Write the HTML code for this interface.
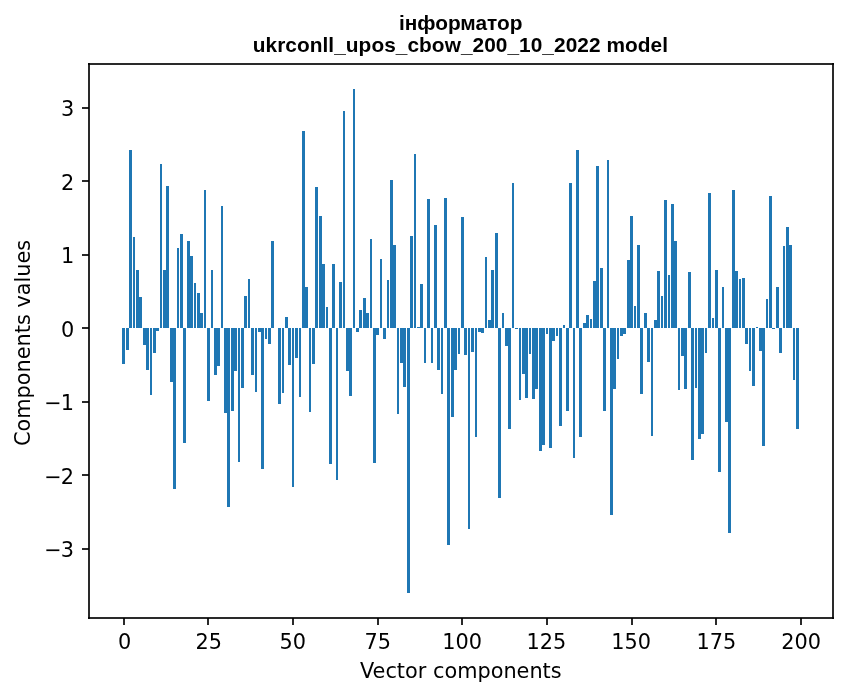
<!DOCTYPE html>
<html lang="uk">
<head>
<meta charset="utf-8">
<title>інформатор — ukrconll_upos_cbow_200_10_2022 model</title>
<style>
html,body{margin:0;padding:0;background:#fff;}
body{width:847px;height:696px;overflow:hidden;}
svg{display:block;}
.t{font-family:"DejaVu Sans","Liberation Sans",sans-serif;font-size:20.833px;fill:#000;}
.ttl{font-family:"Liberation Sans",Arial,sans-serif;font-weight:bold;font-size:20.833px;fill:#000;}
.bar{fill:#1f77b4;}
.ax{fill:#000;fill-opacity:0.8353;}
</style>
</head>
<body>
<svg width="847" height="696" viewBox="0 0 847 696">
<rect x="0" y="0" width="847" height="696" fill="#fff"/>
<g class="bar" shape-rendering="crispEdges">
<rect x="122" y="328" width="3" height="36"/><rect x="126" y="328" width="3" height="22"/><rect x="129" y="150" width="3" height="178"/><rect x="133" y="237" width="2" height="91"/><rect x="136" y="270" width="3" height="58"/>
<rect x="139" y="297" width="3" height="31"/><rect x="143" y="328" width="3" height="17"/><rect x="146" y="328" width="3" height="42"/><rect x="150" y="328" width="2" height="67"/><rect x="153" y="328" width="3" height="25"/>
<rect x="156" y="328" width="3" height="3"/><rect x="160" y="164" width="2" height="164"/><rect x="163" y="270" width="3" height="58"/><rect x="166" y="186" width="3" height="142"/><rect x="170" y="328" width="3" height="54"/>
<rect x="173" y="328" width="3" height="161"/><rect x="177" y="248" width="2" height="80"/><rect x="180" y="234" width="3" height="94"/><rect x="183" y="328" width="3" height="115"/><rect x="187" y="241" width="3" height="87"/>
<rect x="190" y="256" width="3" height="72"/><rect x="194" y="283" width="2" height="45"/><rect x="197" y="293" width="3" height="35"/><rect x="200" y="313" width="3" height="15"/><rect x="204" y="190" width="2" height="138"/>
<rect x="207" y="328" width="3" height="73"/><rect x="211" y="270" width="2" height="58"/><rect x="214" y="328" width="3" height="47"/><rect x="217" y="328" width="3" height="38"/><rect x="221" y="206" width="2" height="122"/>
<rect x="224" y="328" width="3" height="85"/><rect x="227" y="328" width="3" height="179"/><rect x="231" y="328" width="3" height="83"/><rect x="234" y="328" width="3" height="43"/><rect x="238" y="328" width="2" height="134"/>
<rect x="241" y="328" width="3" height="60"/><rect x="244" y="296" width="3" height="32"/><rect x="248" y="279" width="2" height="49"/><rect x="251" y="328" width="3" height="47"/><rect x="255" y="328" width="2" height="64"/>
<rect x="258" y="328" width="3" height="4"/><rect x="261" y="328" width="3" height="141"/><rect x="265" y="328" width="2" height="11"/><rect x="268" y="328" width="3" height="16"/><rect x="271" y="241" width="3" height="87"/>
<rect x="278" y="328" width="3" height="76"/><rect x="282" y="328" width="2" height="65"/><rect x="285" y="317" width="3" height="11"/><rect x="288" y="328" width="3" height="37"/>
<rect x="292" y="328" width="2" height="159"/><rect x="295" y="328" width="3" height="30"/><rect x="299" y="328" width="2" height="69"/><rect x="302" y="131" width="3" height="197"/><rect x="305" y="287" width="3" height="41"/>
<rect x="309" y="328" width="2" height="84"/><rect x="312" y="328" width="3" height="36"/><rect x="315" y="187" width="3" height="141"/><rect x="319" y="216" width="3" height="112"/><rect x="322" y="264" width="3" height="64"/>
<rect x="326" y="307" width="2" height="21"/><rect x="329" y="328" width="3" height="136"/><rect x="332" y="264" width="3" height="64"/><rect x="336" y="328" width="2" height="152"/><rect x="339" y="282" width="3" height="46"/>
<rect x="343" y="111" width="2" height="217"/><rect x="346" y="328" width="3" height="43"/><rect x="349" y="328" width="3" height="68"/><rect x="353" y="89" width="2" height="239"/><rect x="356" y="328" width="3" height="4"/>
<rect x="359" y="310" width="3" height="18"/><rect x="363" y="298" width="3" height="30"/><rect x="366" y="313" width="3" height="15"/><rect x="370" y="239" width="2" height="89"/><rect x="373" y="328" width="3" height="135"/>
<rect x="376" y="328" width="3" height="7"/><rect x="380" y="259" width="2" height="69"/><rect x="383" y="328" width="3" height="11"/><rect x="387" y="280" width="2" height="48"/><rect x="390" y="180" width="3" height="148"/>
<rect x="393" y="245" width="3" height="83"/><rect x="397" y="328" width="2" height="86"/><rect x="400" y="328" width="3" height="35"/><rect x="403" y="328" width="3" height="59"/><rect x="407" y="328" width="3" height="265"/>
<rect x="410" y="236" width="3" height="92"/><rect x="414" y="154" width="2" height="174"/><rect x="417" y="327" width="3" height="1"/><rect x="420" y="284" width="3" height="44"/><rect x="424" y="328" width="2" height="35"/>
<rect x="427" y="199" width="3" height="129"/><rect x="431" y="328" width="2" height="35"/><rect x="434" y="225" width="3" height="103"/><rect x="437" y="328" width="3" height="42"/><rect x="441" y="328" width="2" height="66"/>
<rect x="444" y="198" width="3" height="130"/><rect x="447" y="328" width="3" height="217"/><rect x="451" y="328" width="3" height="89"/><rect x="454" y="328" width="3" height="42"/><rect x="458" y="328" width="2" height="26"/>
<rect x="461" y="217" width="3" height="111"/><rect x="464" y="328" width="3" height="27"/><rect x="468" y="328" width="2" height="201"/><rect x="471" y="328" width="3" height="24"/><rect x="475" y="328" width="2" height="109"/>
<rect x="478" y="328" width="3" height="4"/><rect x="481" y="328" width="3" height="5"/><rect x="485" y="257" width="2" height="71"/><rect x="488" y="320" width="3" height="8"/><rect x="491" y="270" width="3" height="58"/>
<rect x="495" y="233" width="3" height="95"/><rect x="498" y="328" width="3" height="170"/><rect x="502" y="313" width="2" height="15"/><rect x="505" y="328" width="3" height="18"/><rect x="508" y="328" width="3" height="101"/>
<rect x="512" y="183" width="2" height="145"/><rect x="515" y="328" width="3" height="1"/><rect x="519" y="328" width="2" height="72"/><rect x="522" y="328" width="3" height="46"/><rect x="525" y="328" width="3" height="70"/>
<rect x="529" y="328" width="2" height="26"/><rect x="532" y="328" width="3" height="71"/><rect x="535" y="328" width="3" height="61"/><rect x="539" y="328" width="3" height="123"/><rect x="542" y="328" width="3" height="117"/>
<rect x="546" y="328" width="2" height="6"/><rect x="549" y="328" width="3" height="120"/><rect x="552" y="328" width="3" height="13"/><rect x="556" y="328" width="2" height="8"/><rect x="559" y="328" width="3" height="98"/>
<rect x="563" y="325" width="2" height="3"/><rect x="566" y="328" width="3" height="83"/><rect x="569" y="183" width="3" height="145"/><rect x="573" y="328" width="2" height="130"/><rect x="576" y="150" width="3" height="178"/>
<rect x="579" y="328" width="3" height="109"/><rect x="583" y="323" width="3" height="5"/><rect x="586" y="315" width="3" height="13"/><rect x="590" y="319" width="2" height="9"/><rect x="593" y="281" width="3" height="47"/>
<rect x="596" y="166" width="3" height="162"/><rect x="600" y="268" width="3" height="60"/><rect x="603" y="328" width="3" height="83"/><rect x="607" y="160" width="2" height="168"/><rect x="610" y="328" width="3" height="187"/>
<rect x="613" y="328" width="3" height="61"/><rect x="617" y="328" width="2" height="31"/><rect x="620" y="328" width="3" height="8"/><rect x="623" y="328" width="3" height="6"/><rect x="627" y="260" width="3" height="68"/>
<rect x="630" y="216" width="3" height="112"/><rect x="634" y="306" width="2" height="22"/><rect x="637" y="245" width="3" height="83"/><rect x="640" y="328" width="3" height="66"/><rect x="644" y="313" width="3" height="15"/>
<rect x="647" y="328" width="3" height="34"/><rect x="651" y="328" width="2" height="108"/><rect x="654" y="320" width="3" height="8"/><rect x="657" y="271" width="3" height="57"/><rect x="661" y="296" width="2" height="32"/>
<rect x="664" y="200" width="3" height="128"/><rect x="668" y="275" width="2" height="53"/><rect x="671" y="204" width="3" height="124"/><rect x="674" y="241" width="3" height="87"/><rect x="678" y="328" width="2" height="62"/>
<rect x="681" y="328" width="3" height="28"/><rect x="684" y="328" width="3" height="61"/><rect x="688" y="272" width="3" height="56"/><rect x="691" y="328" width="3" height="132"/><rect x="695" y="328" width="2" height="60"/>
<rect x="698" y="328" width="3" height="111"/><rect x="701" y="328" width="3" height="106"/><rect x="705" y="328" width="2" height="25"/><rect x="708" y="193" width="3" height="135"/><rect x="712" y="318" width="2" height="10"/>
<rect x="715" y="270" width="3" height="58"/><rect x="718" y="328" width="3" height="144"/><rect x="722" y="287" width="2" height="41"/><rect x="725" y="328" width="3" height="94"/><rect x="728" y="328" width="3" height="205"/>
<rect x="732" y="190" width="3" height="138"/><rect x="735" y="271" width="3" height="57"/><rect x="739" y="279" width="2" height="49"/><rect x="742" y="278" width="3" height="50"/><rect x="745" y="328" width="3" height="16"/>
<rect x="749" y="328" width="2" height="43"/><rect x="752" y="328" width="3" height="58"/><rect x="756" y="327" width="2" height="1"/><rect x="759" y="328" width="3" height="23"/><rect x="762" y="328" width="3" height="118"/>
<rect x="766" y="299" width="2" height="29"/><rect x="769" y="196" width="3" height="132"/><rect x="772" y="328" width="3" height="1"/><rect x="776" y="287" width="3" height="41"/><rect x="779" y="328" width="3" height="25"/>
<rect x="783" y="246" width="2" height="82"/><rect x="786" y="227" width="3" height="101"/><rect x="789" y="245" width="3" height="83"/><rect x="793" y="328" width="2" height="52"/><rect x="796" y="328" width="3" height="101"/>
</g>
<g class="ax" shape-rendering="crispEdges">
<rect x="123" y="618" width="2" height="7"/><rect x="207" y="618" width="2" height="7"/><rect x="292" y="618" width="2" height="7"/><rect x="377" y="618" width="2" height="7"/><rect x="461" y="618" width="2" height="7"/><rect x="546" y="618" width="2" height="7"/><rect x="631" y="618" width="2" height="7"/><rect x="715" y="618" width="2" height="7"/><rect x="800" y="618" width="2" height="7"/>
<rect x="82" y="107" width="7" height="2"/><rect x="82" y="180" width="7" height="2"/><rect x="82" y="254" width="7" height="2"/><rect x="82" y="327" width="7" height="2"/><rect x="82" y="401" width="7" height="2"/><rect x="82" y="474" width="7" height="2"/><rect x="82" y="548" width="7" height="2"/>
<rect x="88" y="63" width="746" height="2"/><rect x="88" y="617" width="746" height="2"/><rect x="88" y="63" width="2" height="556"/><rect x="832" y="63" width="2" height="556"/>
</g>
<g class="t" text-anchor="middle">
<text x="124.53" y="648.70">0</text><text x="208.74" y="648.70">25</text><text x="292.86" y="648.70">50</text><text x="377.66" y="648.70">75</text><text x="462.15" y="648.70">100</text><text x="546.29" y="648.70">125</text><text x="631.19" y="648.70">150</text><text x="716.28" y="648.70">175</text><text x="801.25" y="648.70">200</text>
</g>
<g class="t" text-anchor="end">
<text x="74.32" y="116.13">3</text><text x="74.35" y="189.51">2</text><text x="74.29" y="263.08">1</text><text x="74.19" y="336.61">0</text><text x="73.97" y="409.99">−<tspan dx="-1.04">1</tspan></text><text x="73.97" y="484.41">−<tspan dx="-1.04">2</tspan></text><text x="73.97" y="556.97">−<tspan dx="-1.04">3</tspan></text>
</g>
<text class="t" text-anchor="middle" x="460.8" y="678.3">Vector components</text>
<text class="t" text-anchor="middle" transform="translate(29.5,342.95) rotate(-90)">Components values</text>
<text class="ttl" text-anchor="middle" x="460.67" y="30.0">інформатор</text>
<text class="ttl" text-anchor="middle" letter-spacing="0.055" x="460.40" y="52.4">ukrconll_upos_cbow_200_10_2022 model</text>
</svg>
</body>
</html>
